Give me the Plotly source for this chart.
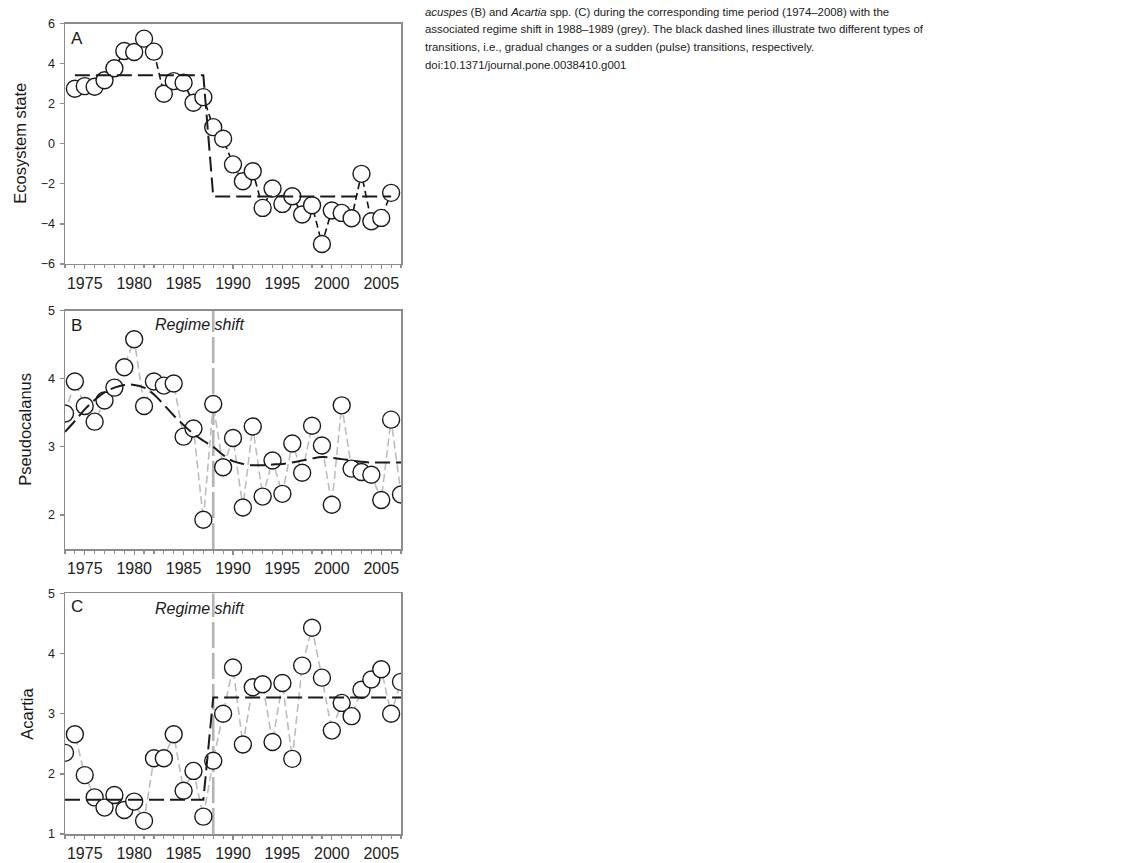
import plotly.graph_objects as go

W, H = 1147, 863
# vertical calibration of the photographed page (measured from previous renders)
V_SCALE, V_SHIFT = 0.9836, 6.38

# ---------------- data ----------------
years_a = list(range(1974, 2007))
eco_state = [2.75, 2.88, 2.85, 3.17, 3.77, 4.63, 4.58, 5.25, 4.6, 2.5, 3.13, 3.05,
             2.05, 2.33, 0.83, 0.25, -1.03, -1.87, -1.37, -3.2, -2.23, -3.0, -2.62,
             -3.53, -3.07, -5.0, -3.33, -3.45, -3.72, -1.5, -3.87, -3.7, -2.45]
eco_step = [3.42] * 14 + [-2.63] * 19

years_bc = list(range(1973, 2008))
pseudo = [3.49, 3.96, 3.60, 3.37, 3.68, 3.87, 4.17, 4.58, 3.60, 3.96, 3.90, 3.93,
          3.15, 3.27, 1.93, 3.63, 2.70, 3.13, 2.11, 3.30, 2.27, 2.80, 2.31, 3.05,
          2.62, 3.31, 3.02, 2.15, 3.61, 2.68, 2.63, 2.59, 2.22, 3.40, 2.30]
pseudo_smooth = [3.22, 3.38, 3.55, 3.69, 3.80, 3.87, 3.91, 3.91, 3.87, 3.77, 3.62, 3.46,
                 3.32, 3.19, 3.09, 3.00, 2.88, 2.79, 2.75, 2.73, 2.73, 2.74, 2.75, 2.77,
                 2.80, 2.83, 2.85, 2.84, 2.82, 2.80, 2.78, 2.77, 2.77, 2.77, 2.77]

acartia = [2.35, 2.66, 1.98, 1.61, 1.44, 1.65, 1.40, 1.54, 1.22, 2.26, 2.26, 2.66,
           1.72, 2.05, 1.29, 2.22, 3.00, 3.77, 2.49, 3.44, 3.49, 2.53, 3.51, 2.25,
           3.80, 4.43, 3.60, 2.72, 3.18, 2.96, 3.40, 3.57, 3.74, 3.00, 3.53]
acartia_step = [1.57] * 15 + [3.27] * 20

regime_shift_year = 1988
x_ticks = [1975, 1980, 1985, 1990, 1995, 2000, 2005]

panel_letters = ["A", "B", "C"]
y_titles = ["Ecosystem state", "Pseudocalanus", "Acartia"]

caption_lines = [
    "<i>acuspes</i> (B) and <i>Acartia</i> spp. (C) during the corresponding time period (1974\u20132008) with the",
    "associated regime shift in 1988\u20131989 (grey). The black dashed lines illustrate two different types of",
    "transitions, i.e., gradual changes or a sudden (pulse) transitions, respectively.",
    "doi:10.1371/journal.pone.0038410.g001",
]

# ---------------- layout geometry (target pixels) ----------------
FONT = "Liberation Sans, Arial, sans-serif"
x_left, x_right = 65, 401
panels_px = [(23, 263.3), (310, 548.3), (592.7, 833.3)]  # (top, bottom)


def py(v):
    page = (v - V_SHIFT) / V_SCALE
    return 1 - page / H


def px(v):
    return v / W


fig = go.Figure()

marker = dict(symbol="circle", size=17, color="white", line=dict(color="#1a1a1a", width=1.4))

# Panel A
fig.add_trace(go.Scatter(x=years_a, y=eco_state, mode="lines+markers", xaxis="x", yaxis="y",
                         line=dict(color="#111111", width=1.6, dash="7px,4px"), marker=marker,
                         showlegend=False))
fig.add_trace(go.Scatter(x=years_a, y=eco_step, mode="lines", xaxis="x", yaxis="y",
                         line=dict(color="#1a1a1a", width=2, dash="15px,6px"), showlegend=False))

# Panel B
fig.add_trace(go.Scatter(x=years_bc, y=pseudo, mode="lines+markers", xaxis="x2", yaxis="y2",
                         line=dict(color="#bdbdbd", width=1.6, dash="8px,4px"), marker=marker,
                         showlegend=False))
fig.add_trace(go.Scatter(x=years_bc, y=pseudo_smooth, mode="lines", xaxis="x2", yaxis="y2",
                         line=dict(color="#1a1a1a", width=2, dash="15px,6px", shape="spline"),
                         showlegend=False))

# Panel C
fig.add_trace(go.Scatter(x=years_bc, y=acartia, mode="lines+markers", xaxis="x3", yaxis="y3",
                         line=dict(color="#bdbdbd", width=1.6, dash="8px,4px"), marker=marker,
                         showlegend=False))
fig.add_trace(go.Scatter(x=years_bc, y=acartia_step, mode="lines", xaxis="x3", yaxis="y3",
                         line=dict(color="#1a1a1a", width=2, dash="15px,6px"), showlegend=False))

axis_common = dict(showline=True, linecolor="#8c8c8c", linewidth=1.5, mirror=True,
                   showgrid=False, zeroline=False, ticks="outside", tickcolor="#8c8c8c",
                   tickwidth=1.2)

xaxis_common = dict(axis_common, range=[1973, 2007], tickvals=x_ticks, ticklen=4,
                    tickfont=dict(family=FONT, size=16, color="#222222"),
                    minor=dict(dtick=1, tick0=1973, ticks="outside", ticklen=3,
                               tickcolor="#8c8c8c", tickwidth=1.2),
                    domain=[px(x_left), px(x_right)])

yranges = [[-6, 6], [1.5, 5], [1, 5]]
ytickvals = [[-6, -4, -2, 0, 2, 4, 6], [2, 3, 4, 5], [1, 2, 3, 4, 5]]

layout = dict(width=W, height=H, autosize=False, paper_bgcolor="white", plot_bgcolor="white",
              margin=dict(l=0, r=0, t=0, b=0), showlegend=False, hovermode=False)

for i, (top, bot) in enumerate(panels_px):
    suffix = "" if i == 0 else str(i + 1)
    layout["xaxis" + suffix] = dict(xaxis_common, anchor="y" + suffix)
    layout["yaxis" + suffix] = dict(axis_common, range=yranges[i], tickvals=ytickvals[i],
                                    ticklen=4, ticklabelstandoff=2, anchor="x" + suffix,
                                    tickfont=dict(family=FONT, size=12.5, color="#222222"),
                                    domain=[py(bot), py(top)])

annotations = []
shapes = []
letter_y = [37.5, 325, 606]
title_x = [20, 25, 27]
for i, (top, bot) in enumerate(panels_px):
    annotations.append(dict(text=panel_letters[i], x=px(69), y=py(letter_y[i]), xref="paper",
                            yref="paper", xanchor="left", yanchor="middle", showarrow=False,
                            font=dict(family=FONT, size=17, color="#1a1a1a")))
    annotations.append(dict(text=y_titles[i], x=px(title_x[i]), y=py((top + bot) / 2),
                            xref="paper", yref="paper", xanchor="center", yanchor="middle",
                            textangle=-90, showarrow=False,
                            font=dict(family=FONT, size=16.5, color="#1a1a1a")))

# Regime shift markers (panels B and C)
regime_text_y = [323.5, 607.5]
for j, suffix in enumerate(["2", "3"]):
    shapes.append(dict(type="line", xref="x" + suffix, yref="y" + suffix + " domain",
                       x0=regime_shift_year, x1=regime_shift_year, y0=0, y1=1,
                       line=dict(color="#b3b3b3", width=2.6, dash="26px,5px"), layer="below"))
    annotations.append(dict(text="<i>Regime shift</i>", x=regime_shift_year - 1.4,
                            y=py(regime_text_y[j]), xref="x" + suffix, yref="paper",
                            xanchor="center", yanchor="middle", showarrow=False,
                            font=dict(family=FONT, size=16, color="#1a1a1a")))

caption_y = [11, 28.8, 46.8, 64.8]
for line, yy in zip(caption_lines, caption_y):
    annotations.append(dict(text=line, x=px(423), y=py(yy), xref="paper", yref="paper",
                            xanchor="left", yanchor="middle", showarrow=False, align="left",
                            font=dict(family=FONT, size=11.4, color="#1a1a1a")))

layout["annotations"] = annotations
layout["shapes"] = shapes
fig.update_layout(**layout)

fig.write_html("out.html", config={"displayModeBar": False, "staticPlot": True},
               post_script="document.body.style.margin='0px';")
